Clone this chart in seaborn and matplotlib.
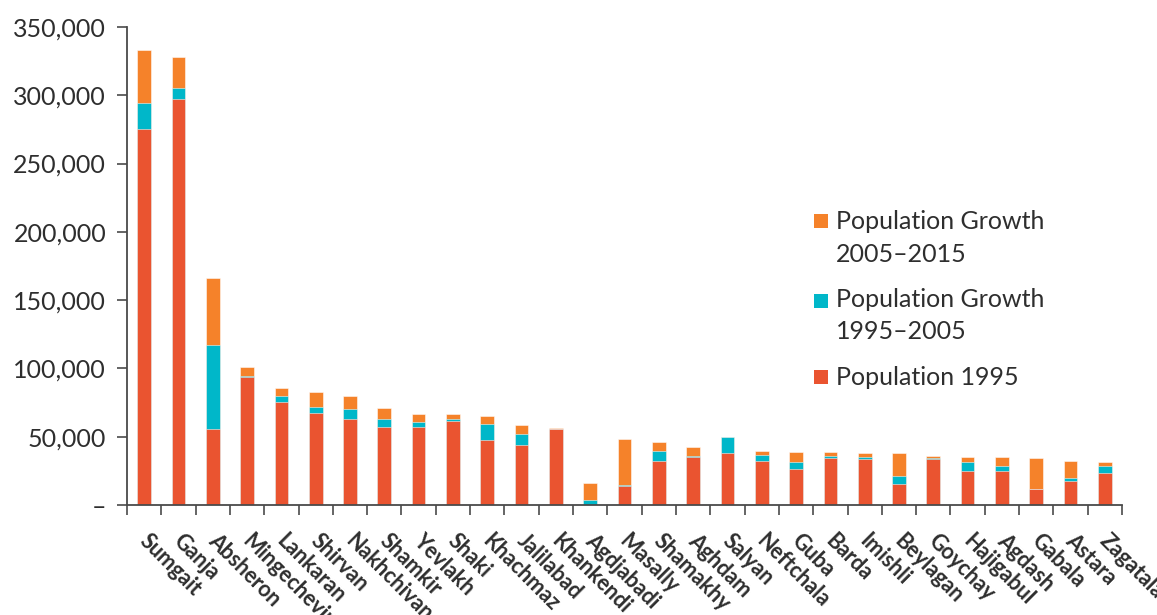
import matplotlib
matplotlib.use("Agg")
import matplotlib.pyplot as plt
from matplotlib.patches import Rectangle
from matplotlib.ticker import FixedLocator, FuncFormatter
from matplotlib.transforms import ScaledTranslation
import numpy as np
import pandas as pd
import seaborn as sns

# Cities, ordered by 2015 population
cities = ["Sumgait", "Ganja", "Absheron", "Mingechevir", "Lankaran", "Shirvan",
          "Nakhchivan", "Shamkir", "Yevlakh", "Shaki", "Khachmaz", "Jalilabad",
          "Khankendi", "Agdjabadi", "Masally", "Shamakhy", "Aghdam", "Salyan",
          "Neftchala", "Guba", "Barda", "Imishli", "Beylagan", "Goychay",
          "Hajigabul", "Agdash", "Gabala", "Astara", "Zagatala"]

pop_1995 = [275000, 297000, 55400, 93900, 75600, 67300, 62700, 56900, 57300,
            61500, 47600, 43700, 55400, 0, 14100, 32000, 35100, 37800, 32200,
            26100, 34400, 33400, 15100, 33400, 25100, 24700, 11500, 17400, 23600]

growth_1995_2005 = [19000, 8000, 61600, 800, 4400, 4700, 7800, 6100, 3300,
                    1700, 11900, 8000, 0, 3700, 800, 7300, 1000, 11800, 4100,
                    5100, 1700, 1500, 5900, 1200, 6100, 4100, 0, 2400, 4700]

growth_2005_2015 = [39000, 23200, 49400, 6300, 5900, 10500, 9300, 8000, 6300,
                    3200, 5900, 7100, 700, 12400, 33400, 7100, 6100, 0, 3200,
                    7600, 2700, 3200, 17100, 1300, 3900, 6100, 22900, 12400, 3200]

y_ticks = [0, 50000, 100000, 150000, 200000, 250000, 300000, 350000]

legend_labels = [["Population Growth", "2005\u20132015"],
                 ["Population Growth", "1995\u20132005"],
                 ["Population 1995"]]

RED = "#EA5430"
TEAL = "#00B7C9"
ORANGE = "#F5822A"
TEXT = "#2E2E2E"
AXIS = "#4A4A4A"

df = pd.DataFrame({"city": cities,
                   "p1995": pop_1995,
                   "g1": growth_1995_2005,
                   "g2": growth_2005_2015})
df["to2005"] = df["p1995"] + df["g1"]
df["to2015"] = df["to2005"] + df["g2"]

sns.set_theme(style="white")
plt.rcParams["font.family"] = ["Lato", "DejaVu Sans"]

W, H = 1157, 615
fig = plt.figure(figsize=(W / 100, H / 100), dpi=100)
ax = fig.add_axes([127 / W, 110 / H, 995 / W, 478 / H])

# Stacked bars: draw cumulative totals, largest on the bottom layer
bar_kw = dict(width=0.4, edgecolor=(1, 1, 1, 0.6), linewidth=0.6,
              saturation=1, ax=ax, order=cities)
sns.barplot(data=df, x="city", y="to2015", color=ORANGE, **bar_kw)
sns.barplot(data=df, x="city", y="to2005", color=TEAL, **bar_kw)
sns.barplot(data=df, x="city", y="p1995", color=RED, **bar_kw)

ax.set_xlim(-0.5, len(cities) - 0.5)
ax.set_ylim(0, 350000)
ax.set_xlabel("")
ax.set_ylabel("")

# Axes styling
for side in ("top", "right"):
    ax.spines[side].set_visible(False)
for side in ("left", "bottom"):
    ax.spines[side].set_color(AXIS)
    ax.spines[side].set_linewidth(1.3)

ax.yaxis.set_major_locator(FixedLocator(y_ticks))
ax.yaxis.set_major_formatter(FuncFormatter(
    lambda v, _: "\u2013" if v == 0 else f"{int(v):,}"))
ax.tick_params(axis="y", which="major", direction="out", length=7, width=1.2,
               color=AXIS, labelcolor=TEXT, labelsize=18, pad=8, left=True)

# Category labels at bar centres, tick marks on the category boundaries
ax.set_xticks(np.arange(len(cities)))
ax.set_xticks(np.arange(len(cities) + 1) - 0.5, minor=True)
ax.tick_params(axis="x", which="major", length=0, pad=18)
ax.tick_params(axis="x", which="minor", direction="out", length=7, width=1.2,
               color=AXIS, bottom=True)
ax.set_xticklabels(cities, rotation=-45, ha="left", va="top",
                   rotation_mode="anchor", fontsize=15.5, fontweight="bold",
                   color=TEXT)
shift = ScaledTranslation(6 / 100, 0, fig.dpi_scale_trans)
for lab in ax.get_xticklabels():
    lab.set_transform(lab.get_transform() + shift)

# Legend: swatches aligned with the first line of each label
def px(x, y):
    return x / W, 1 - y / H

entries = [(ORANGE, legend_labels[0], 214, [229, 262]),
           (TEAL, legend_labels[1], 294, [307, 339]),
           (RED, legend_labels[2], 370, [385])]
for color, lines, sq_top, bases in entries:
    x0, y0 = px(814, sq_top + 14)
    fig.patches.append(Rectangle((x0, y0), 14 / W, 14 / H, transform=fig.transFigure,
                                 facecolor=color, edgecolor="none"))
    for line, base in zip(lines, bases):
        tx, ty = px(836, base)
        fig.text(tx, ty, line, ha="left", va="baseline", fontsize=18,
                 color=TEXT)

fig.savefig("out.png", dpi=100)
